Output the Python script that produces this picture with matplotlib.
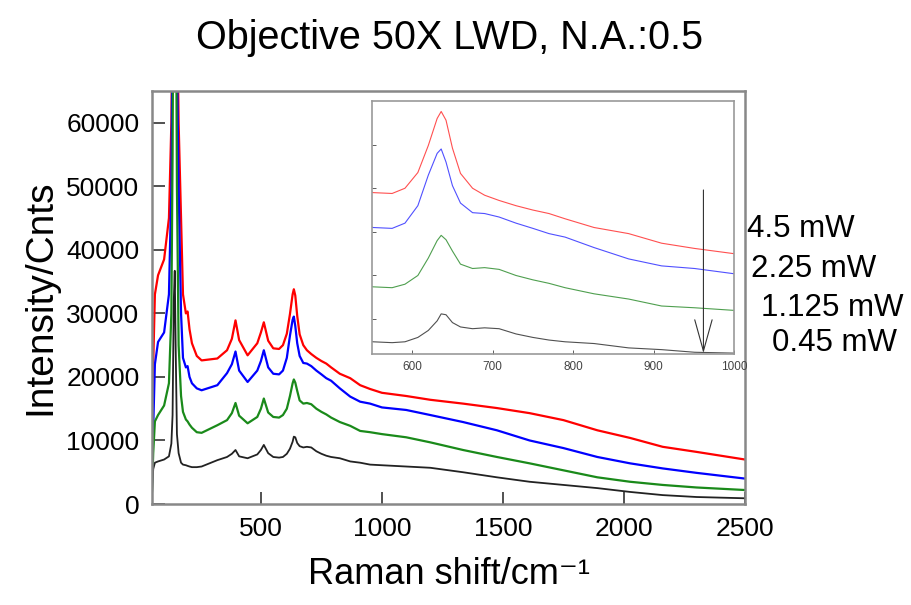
import numpy as np
import matplotlib
matplotlib.use("Agg")
import matplotlib.pyplot as plt

plt.rcParams['font.family'] = ['Liberation Sans', 'DejaVu Sans']

# Raman shift grid (cm-1) shared by all spectra
shift = [50, 55, 62, 75, 100, 120, 130, 135, 140, 144,
         148, 153, 160, 170, 178, 190, 197, 205, 215, 235,
         255, 320, 360, 380, 395, 410, 445, 485, 500, 512,
         530, 551, 575, 591, 607, 620, 631, 636, 642, 650,
         660, 675, 690, 708, 729, 750, 770, 790, 826, 869,
         910, 951, 1000, 1100, 1200, 1335, 1475, 1610, 1750, 1890,
         2025, 2160, 2300, 2500]

# 4.5 mW
red = [4000, 22000, 33000, 36000, 38500, 45000, 60000, 80000, 120000, 150000,
       120000, 80000, 60000, 45000, 33000, 30000, 30300, 27500, 25300, 23300,
       22600, 22900, 24200, 26000, 28900, 25800, 23400, 25300, 27000, 28600,
       25700, 24500, 24400, 25000, 26800, 29900, 33000, 33800, 32800, 29600,
       26700, 25000, 24200, 23600, 23000, 22500, 22100, 21500, 20500, 19800,
       18700, 18100, 17500, 17000, 16400, 15800, 15100, 14300, 13200, 11600,
       10400, 9000, 8200, 7000]

# 2.25 mW
blue = [3500, 12000, 22000, 25500, 27000, 33000, 50000, 75000, 110000, 140000,
        110000, 70000, 50000, 30000, 23000, 21500, 21700, 20000, 19000, 18200,
        17900, 18700, 20600, 22000, 24000, 21000, 19200, 21000, 22500, 24200,
        21500, 20500, 20400, 21000, 23000, 26500, 29000, 29500, 28000, 25300,
        23300, 22200, 22100, 21700, 21000, 20400, 19800, 19400, 18200, 16900,
        16100, 15800, 15200, 14800, 14000, 12900, 11600, 10000, 8800, 7400,
        6400, 5600, 4900, 4000]

# 1.125 mW
green = [2000, 8000, 13000, 14000, 15500, 19000, 30000, 55000, 100000, 120000,
         90000, 50000, 25000, 17000, 14500, 13300, 13000, 12500, 12000, 11300,
         11200, 12400, 13200, 14300, 15900, 13900, 12700, 13700, 15000, 16600,
         14400, 13700, 13600, 14000, 15000, 17000, 19000, 19600, 19100, 17800,
         16300, 15800, 15900, 15700, 15000, 14500, 14100, 13600, 12900, 12300,
         11500, 11300, 11000, 10500, 9700, 8500, 7400, 6400, 5300, 4200,
         3500, 3000, 2600, 2200]

# 0.45 mW
black = [1500, 5500, 6500, 6700, 7000, 7500, 9500, 14000, 32000, 36700,
         24000, 11000, 8000, 6500, 6200, 6100, 6000, 5900, 5800, 5800,
         5900, 6900, 7400, 7900, 8500, 7500, 7200, 7800, 8500, 9300,
         8000, 7400, 7300, 7400, 7900, 8700, 9800, 10600, 10500, 9600,
         9100, 8900, 9000, 8900, 8300, 7900, 7600, 7400, 7200, 6700,
         6500, 6200, 6100, 5900, 5700, 5000, 4200, 3500, 3000, 2500,
         1900, 1400, 1100, 900]

labels = ['4.5 mW', '2.25 mW', '1.125 mW', '0.45 mW']
label_pos = [(747, 229), (751, 269), (761, 308), (772, 343)]

fig = plt.figure(figsize=(9.11, 6.05), dpi=100)
W, H = 911, 605

ax = fig.add_axes([152 / W, 1 - 504 / H, (745 - 152) / W, (504 - 91) / H])
ax.plot(shift, red, color='#ff0000', lw=1.6)
ax.plot(shift, blue, color='#0000ff', lw=1.6)
ax.plot(shift, green, color='#1a8a1a', lw=1.6)
ax.plot(shift, black, color='#222222', lw=1.3)

ax.set_xlim(50, 2500)
ax.set_ylim(0, 65000)
ax.set_xticks([500, 1000, 1500, 2000, 2500])
ax.set_yticks(np.arange(0, 60001, 10000))
ax.ticklabel_format(style='plain', axis='y')
ax.tick_params(direction='in', length=9, width=1.2, labelsize=19, pad=9, color='#333333')
for s in ax.spines.values():
    s.set_color('#888888')
    s.set_linewidth(1.8)
ax.set_xlabel('Raman shift/cm\u207b\u00b9', fontsize=26, labelpad=12)
ax.set_ylabel('Intensity/Cnts', fontsize=28, labelpad=6)
fig.text(450 / W, 1 - 38 / H, 'Objective 50X LWD, N.A.:0.5', fontsize=28.5, ha='center', va='center')

# inset
axi = fig.add_axes([372 / W, 1 - 354 / H, (734 - 372) / W, (354 - 101) / H])
axi.plot(shift, red, color='#ff5050', lw=0.8)
axi.plot(shift, blue, color='#5050ff', lw=0.8)
axi.plot(shift, green, color='#4f9f4f', lw=0.8)
axi.plot(shift, black, color='#505050', lw=0.8)
axi.set_xlim(550, 1000)
axi.set_ylim(6000, 35000)
axi.set_xticks([600, 700, 800, 900, 1000])
axi.set_yticks([10000, 15000, 20000, 25000, 30000])
axi.set_yticklabels([])
axi.tick_params(direction='in', length=3, width=0.6, labelsize=8.5, labelcolor='#444444', color='#444444', pad=5)
for s in axi.spines.values():
    s.set_color('#999999')
    s.set_linewidth(1.2)
axi.annotate('', xy=(962, 6100), xytext=(962, 24800),
             arrowprops=dict(arrowstyle='->, head_length=0.9, head_width=0.25', color='#333333',
                             lw=0.8, mutation_scale=25, shrinkA=0, shrinkB=0))

for lab, (px, py) in zip(labels, label_pos):
    fig.text(px / W, 1 - py / H, lab, fontsize=22.5, ha='left', va='center')

fig.savefig('out.png', dpi=100)
